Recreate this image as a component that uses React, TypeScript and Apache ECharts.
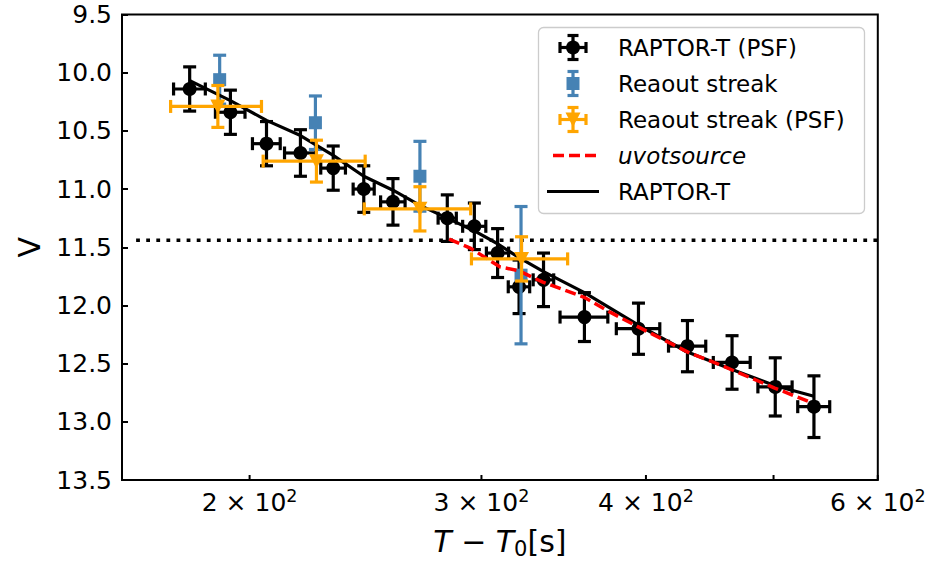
import React, { useEffect, useRef } from 'react';
import * as echarts from 'echarts';

// RAPTOR-T (PSF) photometry
const rtTime = [180.1, 193.4, 206.0, 218.6, 231.5, 244.2, 257.0, 282.6, 296.3, 308.6, 320.4, 334.4, 359.2, 394.8, 430.1, 465.0, 501.5, 536.6];
const rtMag = [10.14, 10.34, 10.61, 10.69, 10.82, 11.0, 11.11, 11.25, 11.32, 11.55, 11.84, 11.78, 12.1, 12.2, 12.35, 12.49, 12.7, 12.87];
const rtTimeErr = [5, 5, 5, 6, 5, 4.5, 5.5, 4.5, 6, 6, 6, 6, 15, 15, 14, 15, 15, 15];
const rtMagErr = [0.19, 0.19, 0.19, 0.2, 0.19, 0.2, 0.2, 0.2, 0.2, 0.21, 0.23, 0.23, 0.21, 0.22, 0.22, 0.23, 0.25, 0.265];

// Readout streak
const rsTime = [189.8, 224.4, 269.4, 321.5];
const rsMag = [10.06, 10.43, 10.89, 11.74];
const rsMagErr = [0.21, 0.23, 0.3, 0.59];

// Readout streak (PSF)
const rspTime = [189.2, 224.8, 269.4, 321.8];
const rspMag = [10.29, 10.76, 11.17, 11.6];
const rspTimeErr = [15, 20, 25, 27];
const rspMagErr = [0.18, 0.18, 0.19, 0.19];

// uvotsource curve
const uvotTime = [283.5, 294.5, 310, 320, 334, 359, 376, 394, 432, 453, 501, 533];
const uvotMag = [11.43, 11.51, 11.67, 11.7, 11.8, 11.93, 12.06, 12.18, 12.41, 12.5, 12.71, 12.83];

// RAPTOR-T curve
const rtLineTime = [180.3, 193.4, 206.0, 218.6, 231.5, 244.2, 257.0, 269.4, 282.6, 296.3, 308.6, 320.4, 334.4, 359.2, 394.8, 430.1, 465.0, 501.5, 536.6];
const rtLineMag = [10.07, 10.24, 10.41, 10.54, 10.71, 10.89, 11.01, 11.14, 11.25, 11.36, 11.47, 11.59, 11.71, 11.89, 12.17, 12.4, 12.55, 12.69, 12.78];

// horizontal dotted limit
const limitMag = 11.44;
const limitTime = [164, 600];

// axes
const xMin = 160;
const xMax = 600;
const yMin = 9.5;
const yMax = 13.5;
const yInterval = 0.5;
const xTickVals = [200, 300, 400, 500, 600];
const xTickMantissa = ['2', '3', '4', '', '6'];
const xTickExponent = '2';

const FONT = 'DejaVu Sans';
const LW = 3.2;

type Marker = 'circle' | 'square' | 'tri';

function markerEl(cx: number, cy: number, color: string, marker: Marker, z?: number): any {
  const base: any = z !== undefined ? { z } : {};
  if (marker === 'circle') return { ...base, type: 'circle', shape: { cx, cy, r: 7 }, style: { fill: color } };
  if (marker === 'square') return { ...base, type: 'rect', shape: { x: cx - 6.5, y: cy - 6.5, width: 13, height: 13 }, style: { fill: color } };
  return {
    ...base,
    type: 'polygon',
    shape: { points: [[cx - 7.5, cy - 7], [cx + 7.5, cy - 7], [cx, cy + 7.5]] },
    style: { fill: color },
  };
}

function errorBarRender(color: string, marker: Marker, capHalf: number, lw: number) {
  return (params: any, api: any) => {
    const x = api.value(0);
    const y = api.value(1);
    const xe = api.value(2);
    const ye = api.value(3);
    const c = api.coord([x, y]);
    const st = { stroke: color, lineWidth: lw };
    const children: any[] = [];
    if (ye > 0) {
      const t = api.coord([x, y - ye]);
      const b = api.coord([x, y + ye]);
      children.push({ type: 'line', shape: { x1: c[0], y1: t[1], x2: c[0], y2: b[1] }, style: st });
      children.push({ type: 'line', shape: { x1: c[0] - capHalf, y1: t[1], x2: c[0] + capHalf, y2: t[1] }, style: st });
      children.push({ type: 'line', shape: { x1: c[0] - capHalf, y1: b[1], x2: c[0] + capHalf, y2: b[1] }, style: st });
    }
    if (xe > 0) {
      const l = api.coord([x - xe, y]);
      const r = api.coord([x + xe, y]);
      children.push({ type: 'line', shape: { x1: l[0], y1: c[1], x2: r[0], y2: c[1] }, style: st });
      children.push({ type: 'line', shape: { x1: l[0], y1: c[1] - capHalf, x2: l[0], y2: c[1] + capHalf }, style: st });
      children.push({ type: 'line', shape: { x1: r[0], y1: c[1] - capHalf, x2: r[0], y2: c[1] + capHalf }, style: st });
    }
    children.push(markerEl(c[0], c[1], color, marker));
    return { type: 'group', children };
  };
}

function legendErrIcon(cx: number, cy: number, color: string, marker: Marker, horiz: boolean): any[] {
  const z = 101;
  const st = { stroke: color, lineWidth: LW };
  const vh = 12;
  const hh = 13;
  const cap = 5.5;
  const ch: any[] = [
    { type: 'line', z, shape: { x1: cx, y1: cy - vh, x2: cx, y2: cy + vh }, style: st },
    { type: 'line', z, shape: { x1: cx - cap, y1: cy - vh, x2: cx + cap, y2: cy - vh }, style: st },
    { type: 'line', z, shape: { x1: cx - cap, y1: cy + vh, x2: cx + cap, y2: cy + vh }, style: st },
  ];
  if (horiz) {
    ch.push({ type: 'line', z, shape: { x1: cx - hh, y1: cy, x2: cx + hh, y2: cy }, style: st });
    ch.push({ type: 'line', z, shape: { x1: cx - hh, y1: cy - cap, x2: cx - hh, y2: cy + cap }, style: st });
    ch.push({ type: 'line', z, shape: { x1: cx + hh, y1: cy - cap, x2: cx + hh, y2: cy + cap }, style: st });
  }
  ch.push(markerEl(cx, cy, color, marker, z));
  return ch;
}

export default function App() {
  const ref = useRef<HTMLDivElement>(null);
  useEffect(() => {
    if (!ref.current) return;
    const chart = echarts.init(ref.current, null, { renderer: 'svg' });

    const rtData = rtTime.map((t, i) => [t, rtMag[i], rtTimeErr[i], rtMagErr[i]]);
    const rsData = rsTime.map((t, i) => [t, rsMag[i], 0, rsMagErr[i]]);
    const rspData = rspTime.map((t, i) => [t, rspMag[i], rspTimeErr[i], rspMagErr[i]]);

    const legendText = (text: string, y: number, italic = false) => ({
      type: 'text',
      x: 618,
      y,
      z: 101,
      style: {
        text,
        fill: '#000',
        fontSize: 23,
        fontFamily: FONT,
        fontStyle: italic ? 'italic' : 'normal',
        align: 'left',
        verticalAlign: 'middle',
      },
    });

    const option: any = {
      animation: false,
      backgroundColor: '#fff',
      grid: {
        left: 122,
        top: 14.5,
        right: 49.2,
        bottom: 83.5,
        show: true,
        borderColor: '#000',
        borderWidth: 2,
        backgroundColor: 'transparent',
      },
      xAxis: {
        type: 'log',
        logBase: 10,
        min: xMin,
        max: xMax,
        axisLine: { show: false },
        axisTick: { show: false },
        axisLabel: { show: false },
        splitLine: { show: false },
        minorTick: { show: false },
        name: '{i|T} − {i|T}{s|0}[s]',
        nameLocation: 'middle',
        nameGap: 44,
        nameTextStyle: {
          fontSize: 30,
          fontFamily: FONT,
          color: '#000',
          rich: {
            i: { fontSize: 30, fontFamily: FONT, fontStyle: 'italic', color: '#000' },
            s: { fontSize: 21, fontFamily: FONT, color: '#000', verticalAlign: 'bottom', padding: [14, 0, 0, 0] },
          },
        },
      },
      yAxis: {
        type: 'value',
        inverse: true,
        min: yMin,
        max: yMax,
        interval: yInterval,
        axisLine: { show: false },
        axisTick: { show: true, inside: true, length: 6, lineStyle: { color: '#000', width: 2 } },
        axisLabel: {
          fontSize: 25,
          fontFamily: FONT,
          color: '#000',
          margin: 10,
          formatter: (v: number) => v.toFixed(1),
        },
        splitLine: { show: false },
        name: 'V',
        nameLocation: 'middle',
        nameGap: 78,
        nameTextStyle: { fontSize: 30, fontFamily: FONT, color: '#000' },
      },
      series: [
        {
          type: 'custom',
          name: 'xticks',
          silent: true,
          z: 1,
          clip: false,
          data: xTickVals.map((v) => [v, yMax]),
          encode: { x: 0, y: 1 },
          renderItem: (params: any, api: any) => {
            const v = api.value(0);
            const p = api.coord([v, yMax]);
            const mant = xTickMantissa[params.dataIndex];
            const children: any[] = [
              { type: 'line', shape: { x1: p[0], y1: p[1], x2: p[0], y2: p[1] - 5 }, style: { stroke: '#000', lineWidth: 2 } },
            ];
            if (mant) {
              children.push({
                type: 'text',
                x: p[0],
                y: p[1] + 22,
                style: {
                  text: `{m|${mant} × 10}{p|${xTickExponent}}`,
                  fill: '#000',
                  fontSize: 25,
                  fontFamily: FONT,
                  align: 'center',
                  verticalAlign: 'middle',
                  rich: {
                    m: { fontSize: 25, fontFamily: FONT, fill: '#000', lineHeight: 30 },
                    p: { fontSize: 17.5, fontFamily: FONT, fill: '#000', verticalAlign: 'top', lineHeight: 18 },
                  },
                },
              });
            }
            return { type: 'group', children };
          },
        },
        {
          type: 'line',
          name: 'limit',
          data: limitTime.map((t) => [t, limitMag]),
          symbol: 'none',
          silent: true,
          z: 2,
          lineStyle: { color: '#000', width: 3.5, type: [3.8, 6.3], cap: 'butt' },
        },
        {
          type: 'custom',
          name: 'RAPTOR-T (PSF)',
          z: 3,
          data: rtData,
          encode: { x: 0, y: 1 },
          renderItem: errorBarRender('#000000', 'circle', 6.5, LW),
        },
        {
          type: 'custom',
          name: 'Reaout streak',
          z: 4,
          data: rsData,
          encode: { x: 0, y: 1 },
          renderItem: errorBarRender('#4682b4', 'square', 6.5, LW),
        },
        {
          type: 'line',
          name: 'RAPTOR-T',
          z: 5,
          data: rtLineTime.map((t, i) => [t, rtLineMag[i]]),
          symbol: 'none',
          lineStyle: { color: '#000', width: 3.2 },
        },
        {
          type: 'line',
          name: 'uvotsource',
          z: 6,
          data: uvotTime.map((t, i) => [t, uvotMag[i]]),
          symbol: 'none',
          lineStyle: { color: '#ff0000', width: 3.5, type: [11, 5] },
        },
        {
          type: 'custom',
          name: 'Reaout streak (PSF)',
          z: 7,
          data: rspData,
          encode: { x: 0, y: 1 },
          renderItem: errorBarRender('#ffa500', 'tri', 6.5, LW),
        },
      ],
      graphic: [
        {
          type: 'rect',
          z: 100,
          shape: { x: 538.5, y: 27.5, width: 326, height: 186, r: 5 },
          style: { fill: 'rgba(255,255,255,0.8)', stroke: '#cccccc', lineWidth: 1.3 },
        },
        ...legendErrIcon(573, 47.5, '#000000', 'circle', true),
        legendText('RAPTOR-T (PSF)', 47.5),
        ...legendErrIcon(573, 83.5, '#4682b4', 'square', false),
        legendText('Reaout streak', 83.5),
        ...legendErrIcon(573, 119.5, '#ffa500', 'tri', true),
        legendText('Reaout streak (PSF)', 119.5),
        {
          type: 'line',
          z: 101,
          shape: { x1: 553, y1: 155.5, x2: 599, y2: 155.5 },
          style: { stroke: '#ff0000', lineWidth: 3.5, lineDash: [11, 5] },
        },
        legendText('uvotsource', 155.5, true),
        {
          type: 'line',
          z: 101,
          shape: { x1: 547, y1: 191.5, x2: 599, y2: 191.5 },
          style: { stroke: '#000', lineWidth: 3.2 },
        },
        legendText('RAPTOR-T', 191.5),
      ],
    };
    chart.setOption(option);
    return () => chart.dispose();
  }, []);
  return (
    <div
      ref={ref}
      style={{ position: 'absolute', left: 0, top: 0, width: 927, height: 564, background: '#fff' }}
    />
  );
}
